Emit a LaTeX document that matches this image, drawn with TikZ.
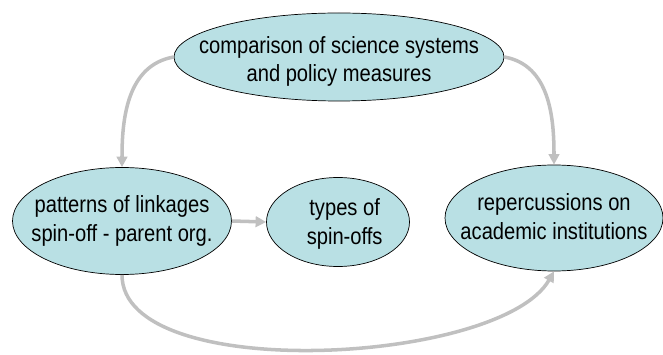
\documentclass[tikz,border=0pt]{standalone}
\usepackage{xcolor}
\usepackage{fontspec}
\setmainfont[FakeStretch=0.86]{Liberation Sans}
\usepackage{tikz}
\usetikzlibrary{shapes.geometric, arrows.meta, positioning}
\definecolor{ovalfill}{HTML}{B9E0E4}
\definecolor{linkgray}{HTML}{C0C0C0}

\tikzset{
  oval/.style={ellipse, draw=black, line width=0.6pt, fill=ovalfill, inner sep=0pt},
  ovaltext/.style={font=\fontsize{20}{24.5}\selectfont, align=center, text=black},
  link/.style={linkgray, line width=3pt, -{Triangle[length=9pt, width=9pt]}}
}

\begin{document}
\begin{tikzpicture}
  \useasboundingbox (0,0) rectangle (19.89,10.62);

  % Top oval
  \node[oval, minimum width=9.9cm, minimum height=2.64cm,
    label={[ovaltext, yshift=-0.13cm]center:comparison of science systems\\and policy measures}]
    (compare) at (10.17, 8.91) {};

  % Row of ovals
  \node[oval, minimum width=6.57cm, minimum height=3.21cm,
    label={[ovaltext]center:patterns of linkages\\spin-off - parent org.}]
    (linkages) at (3.66, 3.99) {};
  \node[oval, minimum width=4.29cm, minimum height=2.67cm,
    label={[ovaltext, xshift=0.2cm, yshift=-0.06cm]center:types of\\spin-offs}]
    (types) at (10.14, 3.96) {};
  \node[oval, minimum width=6.54cm, minimum height=3.18cm,
    label={[ovaltext, yshift=0.05cm]center:repercussions on\\academic institutions}]
    (repercussions) at (16.62, 4.08) {};

  % Connectors
  \draw[link] (compare.west) to[out=190, in=90] (linkages.north);
  \draw[link] (compare.east) to[out=-10, in=90] (repercussions.north);
  \draw[link] (linkages.east) -- (types.west);
  \draw[link] (linkages.south) .. controls +(0,-3.3) and +(-1.6,-2.8) .. (repercussions.south);
\end{tikzpicture}
\end{document}
